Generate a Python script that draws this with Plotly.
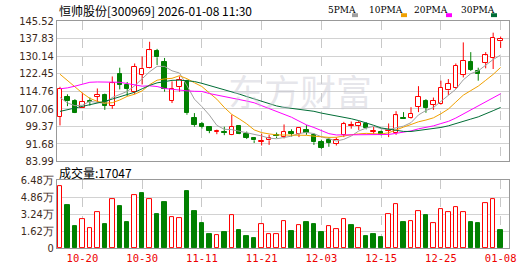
import plotly.graph_objects as go
import pandas as pd

# ---------------- data ----------------
dates = ["10-15", "10-16", "10-17", "10-20", "10-21", "10-22", "10-23", "10-24", "10-27", "10-28",
         "10-29", "10-30", "10-31", "11-03", "11-04", "11-05", "11-06", "11-07", "11-10", "11-11",
         "11-12", "11-13", "11-14", "11-17", "11-18", "11-19", "11-20", "11-21", "11-24", "11-25",
         "11-26", "11-27", "11-28", "12-01", "12-02", "12-03", "12-04", "12-05", "12-08", "12-09",
         "12-10", "12-11", "12-12", "12-15", "12-16", "12-17", "12-18", "12-19", "12-22", "12-23",
         "12-24", "12-25", "12-26", "12-29", "12-30", "12-31", "01-05", "01-06", "01-07", "01-08"]

opens = [103.44, 112.40, 110.55, 107.57, 110.41, 112.40, 113.11, 108.42, 122.21, 117.52,
         114.53, 121.92, 125.05, 132.30, 127.47, 110.55, 116.52, 119.36, 103.02, 100.32,
         99.18, 96.90, 97.05, 95.63, 99.61, 96.05, 94.20, 92.64, 93.21, 95.48,
         94.63, 97.05, 96.05, 97.76, 95.63, 92.36, 93.50, 91.65, 95.63, 99.46,
         99.46, 100.32, 96.90, 97.05, 97.47, 96.34, 103.16, 103.16, 107.99, 110.27,
         108.85, 109.13, 115.10, 116.24, 121.92, 127.61, 123.77, 127.18, 129.46, 136.56]
highs = [116.66, 113.39, 111.26, 114.11, 111.97, 115.95, 113.68, 121.21, 125.05, 118.80,
         126.90, 130.03, 136.42, 133.30, 129.32, 119.08, 121.21, 119.79, 105.15, 101.31,
         99.46, 97.90, 99.18, 104.44, 99.89, 97.05, 94.63, 96.05, 95.63, 96.62,
         100.18, 98.04, 98.90, 99.89, 96.34, 93.50, 94.49, 94.49, 101.31, 101.45,
         101.74, 101.17, 99.18, 97.47, 100.60, 105.98, 105.58, 107.71, 116.95, 111.26,
         111.97, 119.36, 120.07, 126.90, 136.14, 131.87, 125.05, 131.87, 140.40, 138.70]
lows = [99.75, 108.20, 105.15, 107.43, 108.42, 109.84, 106.57, 107.00, 115.53, 112.68,
        113.40, 117.66, 124.77, 126.20, 114.53, 109.56, 114.53, 104.44, 99.18, 98.33,
        96.34, 95.90, 95.48, 95.48, 95.91, 93.78, 92.07, 90.94, 91.22, 94.20,
        94.06, 94.91, 94.63, 95.63, 91.22, 89.51, 90.37, 90.94, 94.63, 98.33,
        97.76, 98.04, 96.05, 95.20, 94.63, 95.63, 102.59, 102.73, 105.58, 105.29,
        106.57, 108.85, 113.11, 115.81, 120.79, 123.63, 119.36, 124.77, 124.48, 133.72]
closes = [115.81, 110.27, 105.29, 110.13, 110.00, 113.11, 108.42, 118.23, 117.66, 115.81,
          125.48, 124.62, 132.73, 129.60, 115.60, 115.90, 119.79, 105.15, 99.89, 99.18,
          97.47, 97.19, 96.48, 99.18, 96.05, 94.20, 93.21, 93.07, 94.20, 94.91,
          96.90, 96.20, 98.75, 96.62, 92.36, 89.94, 92.07, 93.50, 100.32, 99.75,
          100.89, 98.47, 97.19, 95.34, 97.76, 104.16, 102.73, 104.87, 112.25, 107.43,
          110.55, 116.24, 117.94, 125.90, 128.04, 124.06, 122.35, 130.45, 138.27, 137.84]

# volume in 万 (10k shares)
volumes_wan = [5.92, 4.06, 2.11, 2.76, 1.92, 3.47, 2.29, 4.71, 3.97, 2.48,
               5.05, 5.27, 4.62, 3.22, 4.34, 2.94, 2.85, 5.45, 3.50, 2.39,
               1.36, 1.27, 1.55, 3.13, 1.73, 1.18, 0.90, 2.29, 1.36, 1.36,
               2.54, 1.64, 2.17, 2.48, 2.29, 1.55, 2.11, 1.80, 2.73, 2.20,
               1.92, 1.18, 1.36, 1.08, 3.28, 4.21, 2.48, 2.54, 3.56, 3.13,
               2.35, 3.75, 3.38, 3.93, 3.47, 2.48, 2.39, 4.31, 4.71, 1.7047]
vol_up = [1, 0, 0, 1, 1, 1, 0, 1, 0, 0, 1, 0, 1, 0, 0, 1, 1, 0, 0, 0,
          0, 1, 0, 1, 0, 0, 0, 1, 1, 1, 1, 0, 1, 0, 0, 0, 1, 1, 1, 0,
          1, 0, 0, 0, 1, 1, 0, 1, 1, 0, 1, 1, 1, 1, 1, 0, 0, 1, 1, 0]
last_volume = 17047

# moving-average values before each window is complete
ma5_head = [112.0, 109.6, 108.4, 108.6]
ma10_head = [122.2, 119.3, 116.5, 113.9, 111.6, 110.3, 109.5, 109.7, 110.9]
ma20_head = [115.8, 116.2, 116.95, 117.9, 118.66, 118.8, 118.8, 118.8, 118.66, 118.1,
             117.4, 116.95, 117.1, 116.8, 115.95, 115.5, 115.2, 114.9, 114.7]
ma30_head = [105.9, 106.6, 107.4, 108.2, 108.8, 109.4, 110.3, 111.3, 112.3, 113.2,
             114.3, 115.8, 117.3, 118.4, 119.1, 119.5, 119.6, 119.4, 119.0, 118.2,
             117.3, 116.4, 115.5, 114.5, 113.5, 112.4, 111.4, 110.4, 109.3]

tick_idx = [3, 11, 19, 27, 35, 43, 51, 59]
price_ticks = [83.99, 91.68, 99.37, 107.06, 114.76, 122.45, 130.14, 137.83, 145.52]
vol_ticks_wan = [0, 1.62, 3.24, 4.86, 6.48]
ma_names = ["5PMA", "10PMA", "20PMA", "30PMA"]
ma_colors = ["#a0a0a0", "#f0a000", "#ff00ff", "#006d36"]

title_text = "恒帅股份[300969] 2026-01-08 11:30"
watermark = "东方财富"

RED = "#ff0000"
GREEN = "#008000"

# ---------------- helpers ----------------
W, H = 530, 276
ML, MR, MT, MB = 57, 21, 21, 21
PW, PH = W - ML - MR, H - MT - MB


def pxx(x):
    return (x - ML) / PW


def pxy(y):
    return (H - MB - y) / PH


def moving_avg(head, n):
    vals = pd.Series(closes).rolling(n).mean().tolist()
    vals[:n - 1] = head
    return vals


n = len(closes)
idx = list(range(n))

fig = go.Figure()

# wicks (two segments so they don't cross hollow bodies)
for color, is_up in ((RED, True), (GREEN, False)):
    xs, ys = [], []
    for i in idx:
        up = closes[i] >= opens[i]
        if up != is_up:
            continue
        lo_b, hi_b = min(opens[i], closes[i]), max(opens[i], closes[i])
        xs += [i, i, None, i, i, None]
        ys += [lows[i], lo_b, None, hi_b, highs[i], None]
    fig.add_trace(go.Scatter(x=xs, y=ys, mode="lines", line=dict(color=color, width=1),
                             hoverinfo="skip", showlegend=False, xaxis="x", yaxis="y"))

# bodies
for color, is_up in ((RED, True), (GREEN, False)):
    xs, hs, bs = [], [], []
    for i in idx:
        up = closes[i] >= opens[i]
        if up != is_up:
            continue
        xs.append(i)
        bs.append(min(opens[i], closes[i]))
        hs.append(max(abs(closes[i] - opens[i]), 0.12))
    fig.add_trace(go.Bar(x=xs, y=hs, base=bs, width=0.6,
                         marker=dict(color="white" if is_up else GREEN,
                                     line=dict(color=color, width=1)),
                         hoverinfo="skip", showlegend=False, xaxis="x", yaxis="y"))

# moving averages
for name, head, win, col in zip(ma_names, [ma5_head, ma10_head, ma20_head, ma30_head],
                                [5, 10, 20, 30], ma_colors):
    fig.add_trace(go.Scatter(x=idx, y=moving_avg(head, win), mode="lines",
                             line=dict(color=col, width=1), hoverinfo="skip",
                             showlegend=False, xaxis="x", yaxis="y"))

# volume
for is_up in (1, 0):
    xs = [i for i in idx if vol_up[i] == is_up]
    vs = [volumes_wan[i] * 10000 for i in xs]
    fig.add_trace(go.Bar(x=xs, y=vs, width=0.6,
                         marker=dict(color="white" if is_up else GREEN,
                                     line=dict(color=RED if is_up else GREEN, width=1)),
                         hoverinfo="skip", showlegend=False, xaxis="x2", yaxis="y2"))

xr = [-0.4, 60.12]
grid_h = "#d2d2d2"
grid_v = "#c8c8c8"
border = "#999999"
label_font = dict(family="DejaVu Sans Condensed, Liberation Sans Narrow, Arial", size=11, color="#3d2a1a")

fig.update_layout(
    width=W, height=H, margin=dict(l=ML, r=MR, t=MT, b=MB),
    paper_bgcolor="white", plot_bgcolor="white", barmode="overlay", bargap=0,
    showlegend=False,
    xaxis=dict(domain=[0, 1], range=xr, anchor="y", tickvals=tick_idx, showticklabels=False,
               showgrid=True, gridcolor=grid_v, griddash="dash", gridwidth=1, zeroline=False,
               showline=True, mirror=True, linecolor=border, linewidth=1, ticks=""),
    yaxis=dict(domain=[pxy(165.7), 1], range=[price_ticks[0], price_ticks[-1]], tickvals=price_ticks,
               ticktext=[f"{v:.2f}" for v in price_ticks], showgrid=True, gridcolor=grid_h,
               zeroline=False, showline=True, mirror=True, linecolor=border, linewidth=1,
               ticks="", tickfont=label_font),
    xaxis2=dict(domain=[0, 1], range=xr, anchor="y2", tickvals=tick_idx,
                ticktext=[dates[i] for i in tick_idx],
                tickfont=dict(family="DejaVu Sans Mono", size=10.5, color="#ee0000"),
                showgrid=True, gridcolor=grid_v, griddash="dash", zeroline=False,
                showline=True, mirror=True, linecolor=border, linewidth=1, ticks=""),
    yaxis2=dict(domain=[0, pxy(185)], range=[0, vol_ticks_wan[-1] * 10000],
                tickvals=[v * 10000 for v in vol_ticks_wan],
                ticktext=["0" if v == 0 else f"{v:.2f}万" for v in vol_ticks_wan],
                showgrid=True, gridcolor=grid_h, zeroline=False, showline=True, mirror=True,
                linecolor=border, linewidth=1, ticks="", tickfont=label_font),
)

ann = []
ann.append(dict(text=title_text, x=pxx(57), y=pxy(10), xref="paper", yref="paper",
                xanchor="left", yanchor="middle", showarrow=False,
                font=dict(family="Noto Sans CJK SC", size=12, color="#000000")))
ann.append(dict(text=f"成交量:{last_volume}", x=pxx(57), y=pxy(177), xref="paper", yref="paper",
                xanchor="left", yanchor="middle", showarrow=False,
                font=dict(family="Noto Sans CJK SC", size=12, color="#000000")))
ann.append(dict(text=watermark, x=pxx(300), y=pxy(92), xref="paper", yref="paper",
                xanchor="center", yanchor="middle", showarrow=False,
                font=dict(family="Noto Sans CJK SC", size=36, color="rgba(200,200,210,0.45)")))

legend_text_x = [326, 367, 412, 459]
legend_sq_x = [352, 401, 446, 491]
shapes = []
for name, col, tx, sx in zip(ma_names, ma_colors, legend_text_x, legend_sq_x):
    ann.append(dict(text=name, x=pxx(tx), y=pxy(9.5), xref="paper", yref="paper",
                    xanchor="left", yanchor="middle", showarrow=False,
                    font=dict(family="DejaVu Serif Condensed, DejaVu Serif, serif", size=10, color="#000000")))
    shapes.append(dict(type="rect", xref="paper", yref="paper", x0=pxx(sx), x1=pxx(sx + 6),
                       y0=pxy(17), y1=pxy(13), fillcolor=col, line=dict(width=0)))

fig.update_layout(annotations=ann, shapes=shapes)

fig.write_html("out.html")
